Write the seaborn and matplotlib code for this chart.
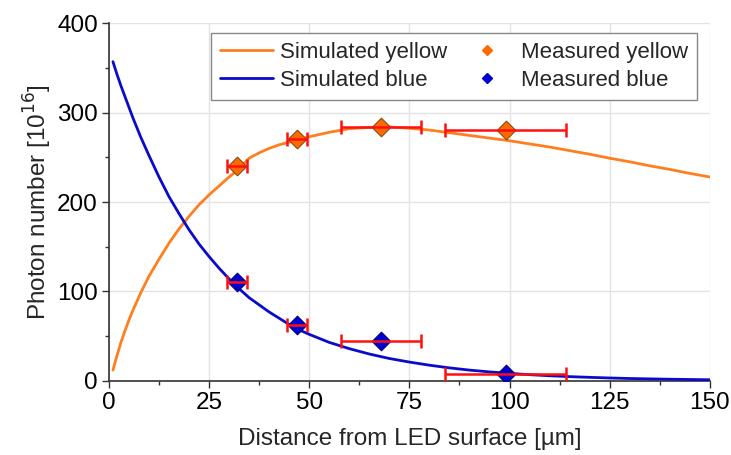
import matplotlib
matplotlib.use("Agg")
import matplotlib.pyplot as plt
import seaborn as sns
import pandas as pd
from matplotlib.ticker import MultipleLocator
from matplotlib.lines import Line2D

# Simulated curves
sim_x = [1, 2, 3, 4, 5, 6, 7, 8, 9, 10, 12.5, 15, 17.5, 20, 22.5, 25, 27.5, 30, 32.5, 35, 37.5, 40,
         42.5, 45, 47.5, 50, 55, 60, 65, 70, 75, 80, 85, 90, 95, 100, 105, 110, 115, 120, 125,
         130, 135, 140, 145, 150]
sim_yellow = [12, 28, 43, 56, 68, 79, 89, 99, 108, 117, 136, 154, 170, 184, 197, 208, 218, 228, 237, 249,
              255, 260, 264, 267, 270, 273, 278, 282, 283.5, 284, 282.5, 280.5, 277.5, 274.5, 271.5,
              268.5, 265, 261.5, 257.5, 253.5, 249, 245, 240.5, 236.5, 232, 228]
sim_blue = [357, 343, 330, 318, 306, 294, 283, 272, 262, 252, 228, 206, 187, 169, 153, 139, 126, 114, 103,
            93, 85, 77, 70, 63, 57, 52, 43, 36, 30, 25, 21, 17.5, 14.5, 12, 10, 8.3, 6.9, 5.7, 4.7,
            3.9, 3.2, 2.6, 2.2, 1.8, 1.5, 1.2]

# Measured points
meas_x = [32, 47, 68, 99]
meas_xerr = [2.5, 2.5, 10, 15]
meas_yellow = [240, 270, 284, 280]
meas_blue = [110, 62, 44, 8]

ORANGE_LINE = "#FF7F1E"
BLUE_LINE = "#0A0ACC"
ORANGE_MK = "#FF6A00"
BLUE_MK = "#0000D0"

sns.set_theme(style="whitegrid")
plt.rcParams["font.family"] = ["Liberation Sans", "DejaVu Sans"]

fig = plt.figure(figsize=(7.31, 4.55), dpi=100)
ax = fig.add_axes([0.149, 0.163, 0.822, 0.786])

df = pd.DataFrame({"x": sim_x, "yellow": sim_yellow, "blue": sim_blue})
sns.lineplot(data=df, x="x", y="yellow", ax=ax, color=ORANGE_LINE, lw=2, zorder=3)
sns.lineplot(data=df, x="x", y="blue", ax=ax, color=BLUE_LINE, lw=2, zorder=3)

dm = pd.DataFrame({"x": meas_x, "yellow": meas_yellow, "blue": meas_blue})
sns.scatterplot(data=dm, x="x", y="yellow", ax=ax, marker="D", s=90, color=ORANGE_MK,
                edgecolor="#8a4a10", linewidth=0.8, zorder=4)
sns.scatterplot(data=dm, x="x", y="blue", ax=ax, marker="D", s=90, color=BLUE_MK,
                edgecolor="#000080", linewidth=0.8, zorder=4)

for ys in (meas_yellow, meas_blue):
    ax.errorbar(meas_x, ys, xerr=meas_xerr, fmt="none", ecolor="#FF1010", elinewidth=1.8,
                capsize=5, capthick=1.8, zorder=5)

ax.set_xlim(0, 150)
ax.set_ylim(0, 400)
ax.xaxis.set_major_locator(MultipleLocator(25))
ax.xaxis.set_minor_locator(MultipleLocator(12.5))
ax.yaxis.set_major_locator(MultipleLocator(100))
ax.yaxis.set_minor_locator(MultipleLocator(50))
ax.grid(True, which="major", color="#E3E3E3", lw=1)
ax.grid(False, which="minor")
ax.set_facecolor("white")
for s in ("top", "right"):
    ax.spines[s].set_visible(False)
for s in ("left", "bottom"):
    ax.spines[s].set_visible(True)
    ax.spines[s].set_color("#333333")
    ax.spines[s].set_linewidth(1.2)
ax.tick_params(which="major", direction="out", length=5, width=1, colors="#333333",
               labelsize=17.5, labelcolor="black", left=True, bottom=True, pad=3)
ax.tick_params(which="minor", direction="out", length=3, width=1, colors="#333333",
               left=True, bottom=True)

ax.set_xlabel("Distance from LED surface [µm]", fontsize=17.5, labelpad=10)
ax.set_ylabel("Photon number [10$^{16}$]", fontsize=17.5, labelpad=2)

handles = [
    Line2D([], [], color=ORANGE_LINE, lw=2),
    Line2D([], [], color=BLUE_LINE, lw=2),
    Line2D([], [], ls="none", marker="D", markersize=5, color=ORANGE_MK),
    Line2D([], [], ls="none", marker="D", markersize=5, color=BLUE_MK),
]
labels = ["Simulated yellow", "Simulated blue", "Measured yellow", "Measured blue"]
leg = ax.legend(handles, labels, ncol=2, loc="upper right", bbox_to_anchor=(0.978, 0.972),
                borderaxespad=0,
                fontsize=16, frameon=True, fancybox=False, edgecolor="#888888",
                framealpha=1, handlelength=2.4, handletextpad=0.3, columnspacing=0.6,
                labelspacing=0.3, borderpad=0.4)
leg.get_frame().set_linewidth(1)

fig.savefig("out.png", dpi=100)
